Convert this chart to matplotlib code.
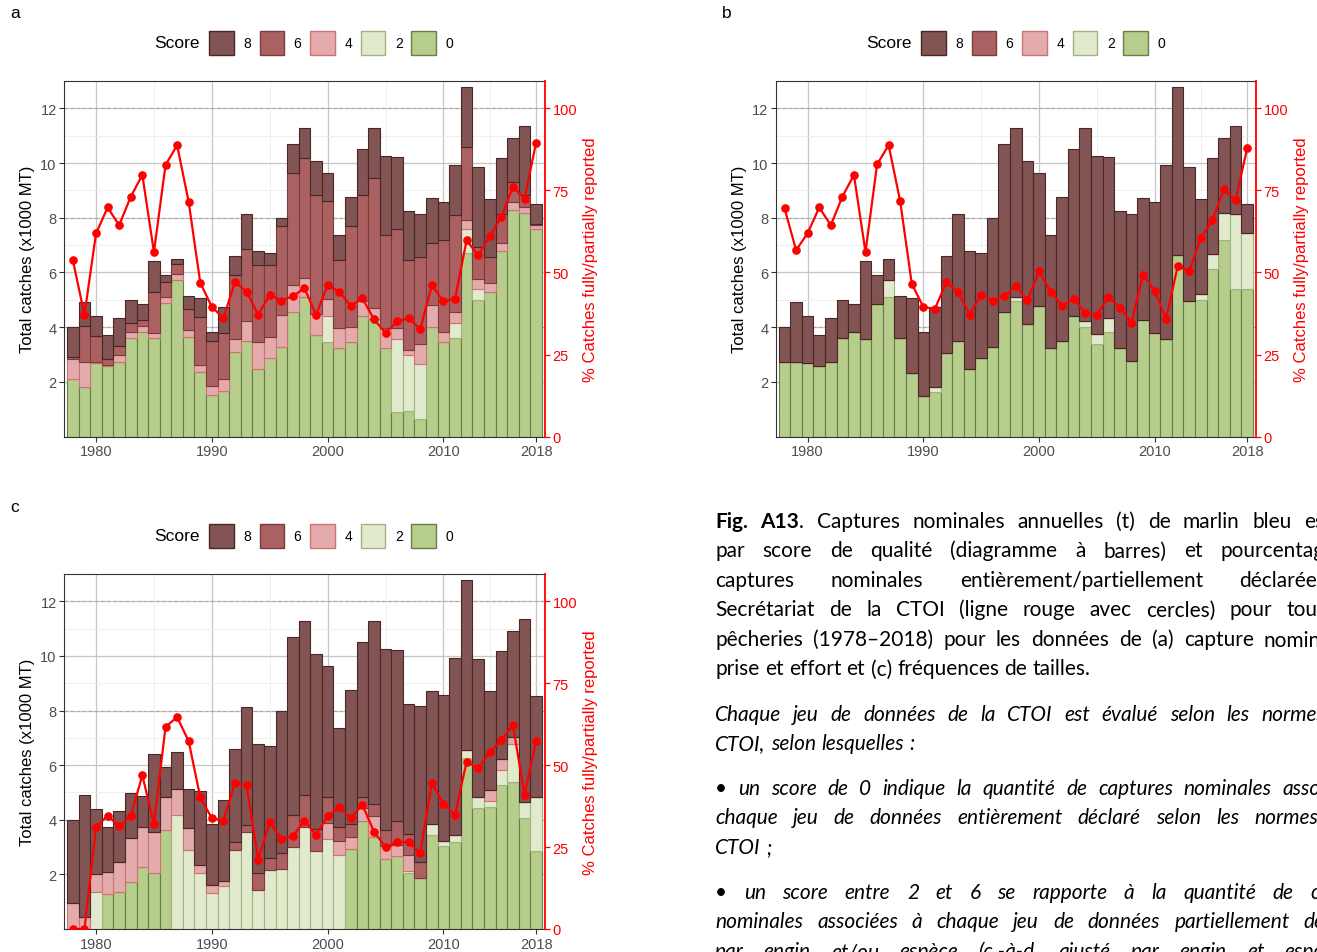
import matplotlib
matplotlib.use('Agg')
import matplotlib.pyplot as plt
from matplotlib.patches import Rectangle
import numpy as np

plt.rcParams['font.family'] = ['Liberation Sans', 'DejaVu Sans']

# ---------------- data ----------------
years = list(range(1978, 2019))

# panel a : nominal catch
a_s0 = [2.12, 1.80, 2.70, 2.57, 2.74, 3.60, 3.84, 3.60, 4.89, 5.71,
        3.64, 2.35, 1.52, 1.68, 3.09, 3.51, 2.48, 2.87, 3.27, 4.55,
        5.10, 3.72, 3.45, 3.23, 3.45, 4.41, 4.31, 3.23, 0.91, 0.95,
        0.64, 4.00, 3.45, 3.60, 6.73, 4.98, 5.28, 6.77, 8.30, 8.19,
        7.58]
a_s2 = [0, 0, 0, 0, 0, 0, 0, 0, 0, 0,
        0, 0, 0, 0, 0, 0, 0, 0, 0, 0,
        0, 0, 0.96, 0, 0, 0, 0, 0, 2.66, 2.04,
        2.02, 0, 0, 0.55, 0.87, 0.43, 0, 0, 0, 0,
        0]
a_s4 = [0.70, 0.94, 0.04, 0.05, 0.26, 0.22, 0.20, 0.19, 0.21, 0.25,
        0.27, 0.27, 0.32, 0.41, 0.46, 0.70, 0.97, 0.77, 1.18, 1.00,
        0.70, 0.77, 0.61, 0.73, 0.55, 0.53, 0.39, 0.73, 0.39, 0.16,
        0.73, 0.82, 0.39, 0.40, 0.31, 0.36, 0.35, 0.32, 0.26, 0.21,
        0.14]
a_s6 = [0.08, 1.32, 0.92, 0.22, 0.33, 0.33, 0.24, 1.49, 0.57, 0.34,
        0.76, 1.75, 1.67, 1.71, 2.34, 2.66, 2.84, 2.62, 3.25, 4.09,
        4.37, 4.36, 3.58, 2.48, 3.69, 3.89, 4.76, 3.40, 3.64, 3.29,
        3.17, 2.27, 3.34, 3.54, 2.69, 1.16, 0.93, 1.06, 0.73, 0.43,
        0.07]
a_s8 = [1.10, 0.85, 0.75, 0.88, 1.00, 0.83, 0.58, 1.13, 0.25, 0.20,
        0.47, 0.69, 0.33, 0.93, 0.70, 1.25, 0.48, 0.45, 0.30, 1.04,
        1.12, 1.22, 1.02, 0.92, 1.07, 1.67, 1.83, 2.91, 2.63, 1.81,
        1.59, 1.64, 1.38, 1.84, 2.19, 2.94, 2.14, 2.04, 1.63, 2.52,
        0.73]
a_pct = [53.7, 37.1, 61.9, 69.8, 64.4, 73.1, 79.7, 56.2, 82.7, 88.8,
         71.5, 46.9, 39.5, 36.1, 47.1, 44.2, 37.1, 43.2, 41.4, 42.8,
         45.2, 37.1, 46.1, 44.2, 39.8, 42.2, 35.7, 31.6, 35.1, 36.1,
         32.8, 46.1, 41.2, 42.0, 59.8, 55.2, 61.0, 66.9, 76.1, 72.5,
         89.5]

# panel b : catch and effort
b_s0 = [2.74, 2.74, 2.70, 2.57, 2.74, 3.60, 3.82, 3.58, 4.86, 5.10,
        3.62, 2.33, 1.50, 1.64, 3.06, 3.51, 2.48, 2.87, 3.27, 4.55,
        4.94, 4.12, 4.79, 3.23, 3.48, 4.41, 4.00, 3.39, 3.84, 3.23,
        2.78, 4.28, 3.79, 3.58, 6.63, 4.94, 4.98, 6.14, 7.18, 5.41,
        5.41]
b_s2 = [0, 0, 0, 0, 0, 0, 0, 0, 0, 0.63,
        0, 0, 0, 0.16, 0, 0, 0, 0, 0, 0,
        0.16, 0, 0, 0, 0, 0, 0.21, 0.37, 0.49, 0,
        0, 0, 0, 0, 0, 0, 0.24, 0.55, 1.00, 2.74,
        2.04]
b_s4 = [0] * 41
b_s6 = [0] * 41
b_s8 = [1.26, 2.17, 1.71, 1.15, 1.59, 1.38, 1.04, 2.83, 1.06, 0.77,
        1.52, 2.73, 2.34, 2.93, 3.53, 4.61, 4.29, 3.84, 4.73, 6.13,
        6.19, 5.95, 4.83, 4.13, 5.28, 6.09, 7.08, 6.51, 5.90, 5.02,
        5.37, 4.45, 4.77, 6.35, 6.16, 4.93, 3.48, 3.50, 2.74, 3.20,
        1.07]
b_pct = [69.5, 56.8, 62.0, 69.8, 64.4, 73.1, 79.7, 56.2, 82.9, 88.8,
         71.7, 46.6, 39.5, 38.9, 47.1, 44.0, 37.1, 43.2, 41.4, 42.8,
         45.9, 41.5, 50.3, 44.2, 39.8, 42.0, 37.7, 37.1, 42.5, 39.3,
         34.7, 49.3, 44.5, 35.9, 52.0, 50.3, 60.5, 65.9, 75.3, 72.0,
         87.8]

# panel c : size frequency
c_s0 = [0, 0, 0, 1.28, 1.34, 1.71, 2.26, 2.05, 3.61, 0,
        0, 0, 0, 0, 0, 0, 0, 0, 0, 0,
        0, 0, 0, 0, 2.93, 3.94, 3.36, 2.57, 2.69, 2.05,
        1.86, 3.45, 3.03, 3.20, 6.26, 4.43, 4.46, 5.26, 5.40, 4.06,
        2.87]
c_s2 = [0, 0, 1.37, 0, 0, 0, 0, 0, 0, 4.18,
        2.90, 2.05, 1.31, 1.56, 2.91, 3.55, 1.43, 2.16, 2.18, 2.99,
        3.73, 2.87, 3.28, 2.71, 0, 0, 0, 0, 0, 0.09,
        0, 0.40, 0.21, 0.25, 0.28, 0.42, 0.21, 0.58, 1.38, 0.59,
        1.96]
c_s4 = [0.95, 0.43, 0.65, 0.82, 1.10, 1.62, 1.49, 1.50, 1.24, 0.93,
        0.79, 0.31, 0.30, 0.21, 0, 0, 0, 0, 0, 0,
        0, 0, 0.61, 0.53, 0.43, 0.49, 0.77, 0.46, 0.37, 0.57,
        0, 0, 0, 0, 0, 0, 0.43, 0.37, 0.25, 0,
        0]
c_s6 = [0, 0, 0, 0, 0, 0, 0, 0, 0, 0,
        0, 0, 0, 0, 0.29, 0.26, 0.61, 0.43, 0.60, 1.17,
        1.16, 0.80, 0.94, 0.49, 0.49, 0.40, 0.45, 0.58, 0.88, 0.77,
        0.61, 0, 0, 0, 0, 0, 0, 0, 0, 0,
        0]
c_s8 = [3.05, 4.48, 2.39, 1.62, 1.89, 1.65, 1.11, 2.86, 1.07, 1.39,
        1.45, 2.70, 2.23, 2.96, 3.39, 4.31, 4.73, 4.12, 5.22, 6.52,
        6.40, 6.40, 4.79, 3.63, 4.91, 5.67, 6.71, 6.66, 6.29, 4.77,
        5.68, 4.88, 5.32, 6.48, 6.25, 5.02, 3.60, 3.98, 3.89, 6.70,
        3.69]
c_pct = [0, 0, 31.1, 34.6, 31.3, 34.6, 46.9, 32.1, 61.6, 64.7,
         57.3, 40.2, 33.8, 33.1, 44.6, 43.8, 21.2, 32.6, 27.5, 28.3,
         33.1, 28.7, 34.4, 37.2, 33.8, 37.9, 29.7, 25.0, 26.5, 26.5,
         23.2, 44.6, 38.2, 34.8, 51.1, 49.1, 54.0, 57.6, 62.3, 40.9,
         57.3]

scores = ['8', '6', '4', '2', '0']
x_breaks = [1980, 1990, 2000, 2010, 2018]
y_breaks = [2, 4, 6, 8, 10, 12]
pct_breaks = [0, 25, 50, 75, 100]

# ---------------- style ----------------
fills = {'8': '#825454', '6': '#ab6161', '4': '#e3abab', '2': '#e2eacd', '0': '#b7cd8c'}
edges = {'8': '#4b2626', '6': '#7b3b3b', '4': '#cd7474', '2': '#9fb47f', '0': '#667f45'}

W, H = 1317, 953
fig = plt.figure(figsize=(W / 100, H / 100), dpi=100)


def px_axes(x0, y0, x1, y1):
    return fig.add_axes([x0 / W, 1 - y1 / H, (x1 - x0) / W, (y1 - y0) / H])


def draw_panel(rect, seg, pct, leg_dx, leg_dy, tag, tag_xy):
    ax = px_axes(*rect)
    ax.set_xlim(1977.26, 2018.77)
    ax.set_ylim(0, 13)
    ax.set_yticks(y_breaks)
    ax.set_yticks([1, 3, 5, 7, 9, 11], minor=True)
    ax.set_xticks(x_breaks)
    ax.set_xticks([1985, 1995, 2005, 2014], minor=True)
    ax.grid(which='major', color='#c6c6c6', lw=0.9, zorder=0)
    ax.grid(which='minor', color='#ededed', lw=0.6, zorder=0)
    ax.set_axisbelow(True)
    for yv in (4, 8, 12):
        ax.axhline(yv, color='#a8a8a8', ls=(0, (3, 2.5)), lw=0.8, zorder=1)
    bottom = np.zeros(len(years))
    for key in ['0', '2', '4', '6', '8']:
        vals = np.array(seg[key], dtype=float)
        ax.bar(years, vals, width=1.0, bottom=bottom, color=fills[key],
               edgecolor=edges[key], linewidth=0.8, zorder=2)
        bottom += vals
    ax.tick_params(axis='both', which='minor', length=0)
    ax.tick_params(axis='both', which='major', length=3.5, width=0.8,
                   color='#333333', labelcolor='#4d4d4d', labelsize=10.5, pad=2)
    for s in ('left', 'top', 'bottom'):
        ax.spines[s].set_color('#333333')
        ax.spines[s].set_linewidth(0.8)
    ax.spines['right'].set_visible(False)
    ax.set_ylabel('Total catches (x1000 MT)', fontsize=12, color='black')
    ax.yaxis.set_label_coords(-0.061, 0.5)

    ax2 = ax.twinx()
    ax2.set_ylim(0, 13 / 0.12)
    ax2.plot(years, pct, color='#ff0000', lw=1.6, marker='o', ms=5.2,
             zorder=5)
    ax2.set_yticks(pct_breaks)
    ax2.tick_params(axis='y', length=3.5, width=0.9, color='#ff0000',
                    labelcolor='#ff0000', labelsize=10.5, pad=2)
    for s in ('left', 'top', 'bottom'):
        ax2.spines[s].set_visible(False)
    ax2.spines['right'].set_color('#ff0000')
    ax2.spines['right'].set_linewidth(1.3)
    ax2.set_ylabel('% Catches fully/partially reported', fontsize=12,
                   color='#ff0000')
    ax2.yaxis.set_label_coords(1.08, 0.5)

    # legend
    fig.text((200 + leg_dx) / W, 1 - (44 + leg_dy) / H, 'Score', ha='right',
             va='center', fontsize=12.5)
    for i, key in enumerate(scores):
        x0 = 209 + leg_dx + i * 50.6
        y0 = 32 + leg_dy
        fig.add_artist(Rectangle((x0 / W, 1 - (y0 + 24) / H), 24.5 / W, 24 / H,
                                 transform=fig.transFigure, facecolor=fills[key],
                                 edgecolor=edges[key], lw=1.0))
        fig.text((x0 + 34) / W, 1 - (44 + leg_dy) / H, key, ha='left',
                 va='center', fontsize=10)
    fig.text(tag_xy[0] / W, 1 - tag_xy[1] / H, tag, ha='left', va='center',
             fontsize=12.5)
    return ax


draw_panel((64.3, 82, 545, 437.6),
           {'0': a_s0, '2': a_s2, '4': a_s4, '6': a_s6, '8': a_s8}, a_pct,
           0, 0, 'a', (10, 14))
draw_panel((776, 82, 1256, 437.6),
           {'0': b_s0, '2': b_s2, '4': b_s4, '6': b_s6, '8': b_s8}, b_pct,
           712, 0, 'b', (722, 14))
draw_panel((64.3, 575, 545, 930),
           {'0': c_s0, '2': c_s2, '4': c_s4, '6': c_s6, '8': c_s8}, c_pct,
           0, 493, 'c', (10, 507))

# ---------------- caption text (justified, cut by the page edge) ----------------
TXT_FONT = ['Lato', 'DejaVu Sans']
TXT_SIZE = 15.0
X_LEFT = 715
X_RIGHT = 1385
renderer = fig.canvas.get_renderer()


def seg_width(txt, weight, style):
    t = fig.text(0, 0, txt, fontsize=TXT_SIZE, family=TXT_FONT,
                 weight=weight, style=style)
    w = t.get_window_extent(renderer=renderer).width
    t.remove()
    return w


space_w = seg_width('n n', 'normal', 'normal') - seg_width('nn', 'normal', 'normal')


def draw_line(tokens, baseline, style, justify):
    toks = []
    for tk in tokens:
        if isinstance(tk, str):
            toks.append([(tk, 'normal')])
        else:
            toks.append(tk)
    widths = []
    for tk in toks:
        widths.append([seg_width(s, w, style) for s, w in tk])
    total = sum(sum(w) for w in widths)
    if justify and len(toks) > 1:
        gap = (X_RIGHT - X_LEFT - total) / (len(toks) - 1)
    else:
        gap = space_w
    x = X_LEFT
    for tk, ws in zip(toks, widths):
        for (s, w), sw in zip(tk, ws):
            if x < W - 2:
                fig.text(x / W, 1 - baseline / H, s, fontsize=TXT_SIZE,
                         family=TXT_FONT, weight=w, style=style, ha='left',
                         va='baseline', color='black')
            x += sw
        x += gap


LS = 29.5
lines = [
    ([[('Fig.', 'bold')], [('A13', 'bold'), ('.', 'normal')], 'Captures',
      'nominales', 'annuelles', '(t)', 'de', 'marlin', 'bleu', 'estimées'],
     528, 'normal', True),
    ('par score de qualité (diagramme à barres) et pourcentage des'.split(),
     528 + LS, 'normal', True),
    ('captures nominales entièrement/partiellement déclarées au'.split(),
     528 + 2 * LS, 'normal', True),
    ('Secrétariat de la CTOI (ligne rouge avec cercles) pour toutes les'.split(),
     528 + 3 * LS, 'normal', True),
    ('pêcheries (1978–2018) pour les données de (a) capture nominale, (b)'.split(),
     528 + 4 * LS, 'normal', True),
    ('prise et effort et (c) fréquences de tailles.'.split(),
     528 + 5 * LS, 'normal', False),
    ('Chaque jeu de données de la CTOI est évalué selon les normes de la'.split(),
     721, 'italic', True),
    ('CTOI, selon lesquelles :'.split(), 721 + LS, 'italic', False),
    ('• un score de 0 indique la quantité de captures nominales associées à'.split(),
     795, 'italic', True),
    ('chaque jeu de données entièrement déclaré selon les normes de la'.split(),
     795 + LS, 'italic', True),
    ('CTOI ;'.split(), 795 + 2 * LS, 'italic', False),
    ('• un score entre 2 et 6 se rapporte à la quantité de captures'.split(),
     899, 'italic', True),
    ('nominales associées à chaque jeu de données partiellement déclarées'.split(),
     899 + LS, 'italic', True),
    ('par engin et/ou espèce (c.-à-d. ajusté par engin et espèce au'.split(),
     899 + 2 * LS, 'italic', True),
]
for toks, base, style, just in lines:
    draw_line(toks, base, style, just)

fig.savefig('out.png', dpi=100)
